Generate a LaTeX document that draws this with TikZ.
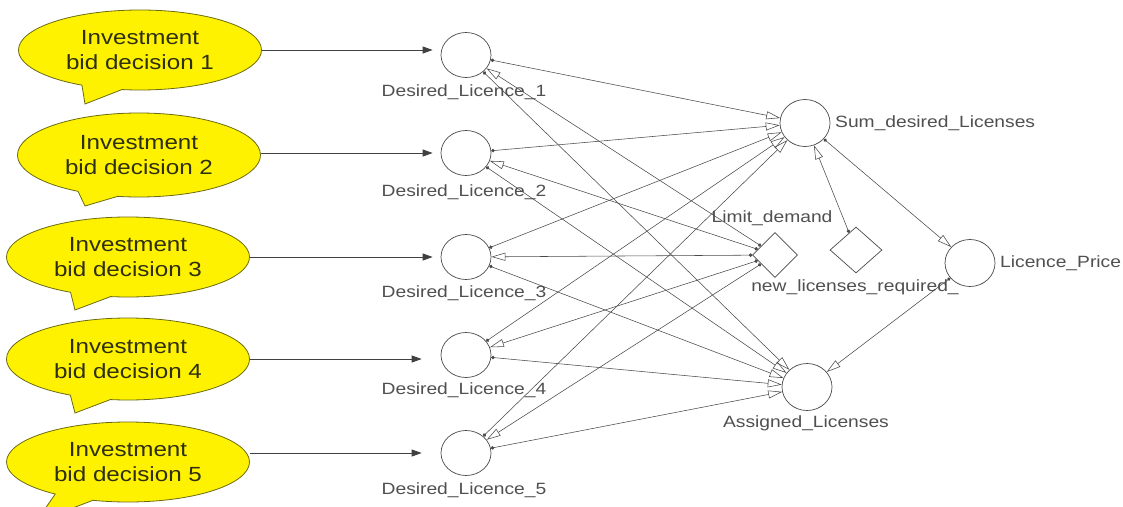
\documentclass[tikz,border=0pt]{standalone}
\usepackage{fontspec}
\setmainfont{Liberation Sans}[FakeStretch=1.18]
\usetikzlibrary{shapes.geometric,shapes.callouts,arrows.meta}
\definecolor{bubbleedge}{HTML}{6B6B10}
\definecolor{bubbletext}{HTML}{2E2E10}
\definecolor{linegray}{HTML}{4A4A4A}
\definecolor{labelgray}{HTML}{505050}
\begin{document}
\begin{tikzpicture}[x=1pt,y=-1pt,
  bubble/.style={ellipse callout, draw=bubbleedge, line width=0.8pt, fill=yellow,
    minimum width=243pt, minimum height=80pt, inner sep=0pt, align=center,
    font=\fontsize{20.5}{25}\selectfont, text=bubbletext, callout pointer arc=20},
  var/.style={ellipse, draw=linegray, line width=0.7pt, minimum width=50pt,
    minimum height=45pt, inner sep=0pt},
  aux/.style={diamond, draw=linegray, line width=0.7pt, minimum width=45pt,
    minimum height=45pt, inner sep=0pt},
  lab/.style={font=\fontsize{16.3}{18}\selectfont, text=labelgray, inner sep=0pt},
  link/.style={draw=linegray, line width=0.55pt,
    {Circle[length=3.5pt]}-{Triangle[open,length=14pt,width=8pt]}},
  feed/.style={draw=black!75, line width=0.9pt, -{Triangle[length=10pt,width=7pt]}}
]
\fill[white] (0,0) rectangle (1123,506);
\useasboundingbox (0,0) rectangle (1123,506);
\clip (0,0) rectangle (1123,506);

% decision bubbles
\node[bubble, callout absolute pointer={(85,104)}] (b1) at (140,50) {Investment\\bid decision 1};
\node[bubble, minimum height=84pt, callout absolute pointer={(85,206)}] (b2) at (139,155) {Investment\\bid decision 2};
\node[bubble, callout absolute pointer={(75,310)}] (b3) at (128,257) {Investment\\bid decision 3};
\node[bubble, minimum height=82pt, callout absolute pointer={(75,413)}] (b4) at (128,359) {Investment\\bid decision 4};
\node[bubble, callout absolute pointer={(36,522)}] (b5) at (128,462) {Investment\\bid decision 5};

% desired licence variables
\node[var] (D1) at (466,55) {};
\node[var] (D2) at (466,153) {};
\node[var] (D3) at (466,257) {};
\node[var] (D4) at (466,355) {};
\node[var] (D5) at (466,453) {};
\node[lab] (lD1) at (464,92) {Desired\_Licence\_1};
\node[lab] (lD2) at (464,192) {Desired\_Licence\_2};
\node[lab] (lD3) at (464,293) {Desired\_Licence\_3};
\node[lab] (lD4) at (464,390) {Desired\_Licence\_4};
\node[lab] (lD5) at (464,490) {Desired\_Licence\_5};

% right-hand variables
\node[var, minimum height=47pt] (Sum) at (805,123) {};
\node[var, minimum height=47pt] (LP) at (970,263) {};
\node[var, minimum height=47pt] (Ass) at (807,387) {};
\node[aux] (Lim) at (775,255) {};
\node[aux, minimum width=52pt, minimum height=46pt] (New) at (856,250) {};
\node[lab, anchor=west] (lSum) at (835,123) {Sum\_desired\_Licenses};
\node[lab, anchor=west] (lLP) at (1000,263) {Licence\_Price};
\node[lab] (lAss) at (806,423) {Assigned\_Licenses};
\node[lab] (lLim) at (772,218) {Limit\_demand};
\node[lab] (lNew) at (855,287) {new\_licenses\_required\_};

% feeds from bubbles
\draw[feed, shorten >=8pt] (b1.east) -- (b1.east -| D1.west);
\draw[feed, shorten >=8pt] (b2.east |- D2) -- (D2.west);
\draw[feed, shorten >=8pt] (b3.east |- D3) -- (D3.west);
\draw[feed, shorten >=19pt] (b4.east) -- (b4.east -| D4.west);
\draw[feed, shorten >=19pt] (b5.east |- D5) -- (D5.west);

% links
\foreach \i in {1,...,5}{
  \draw[link] (D\i) -- (Sum);
  \draw[link] (D\i) -- (Ass);
  \draw[link] (Lim) -- (D\i);
}
\draw[link] (New) -- (Sum);
\draw[link] (Sum) -- (LP);
\draw[link] (LP) -- (Ass);
\end{tikzpicture}
\end{document}
